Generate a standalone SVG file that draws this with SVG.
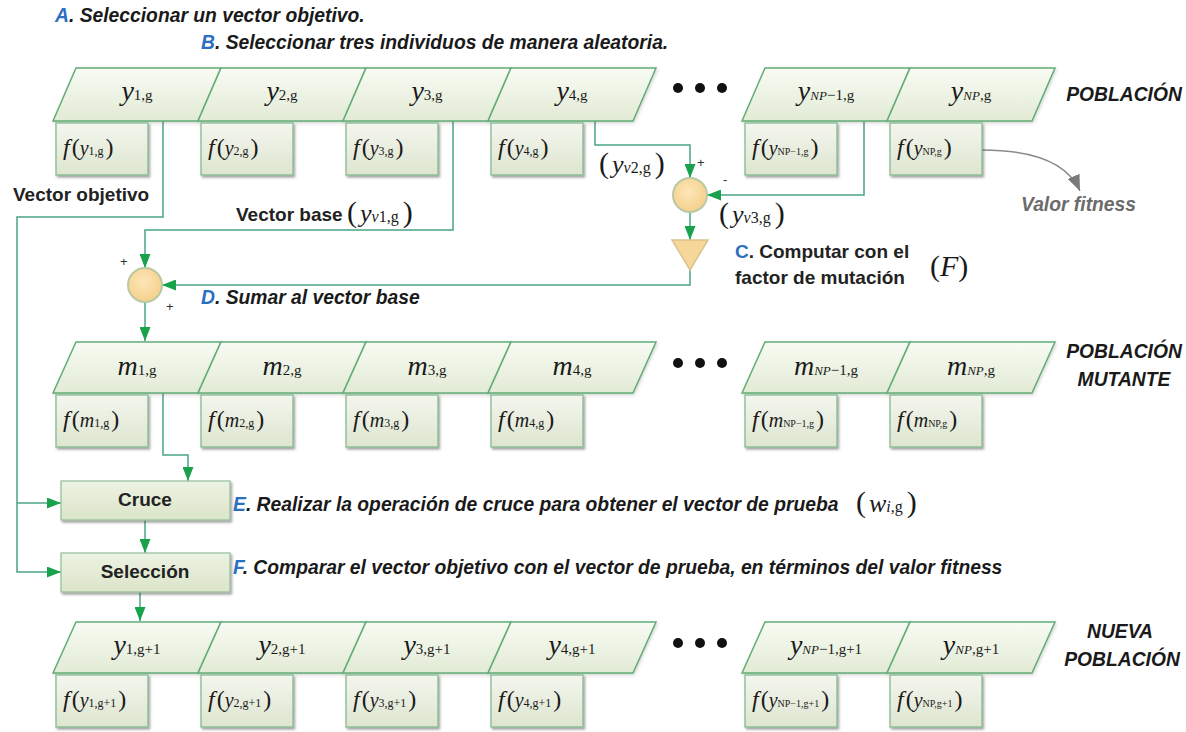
<svg xmlns="http://www.w3.org/2000/svg" width="1186" height="732" viewBox="0 0 1186 732">
<defs>
<linearGradient id="gPar" x1="0" y1="0" x2="0" y2="1"><stop offset="0" stop-color="#f8fbf3"/><stop offset="1" stop-color="#e2ebd5"/></linearGradient>
<linearGradient id="gBox" x1="0" y1="0" x2="0" y2="1"><stop offset="0" stop-color="#f4f6ef"/><stop offset="1" stop-color="#dde5cf"/></linearGradient>
<linearGradient id="gOp" x1="0" y1="0" x2="0" y2="1"><stop offset="0" stop-color="#edf2e2"/><stop offset="1" stop-color="#dbe5c9"/></linearGradient>
<radialGradient id="gCirc" cx="0.45" cy="0.4" r="0.6"><stop offset="0" stop-color="#fde6b8"/><stop offset="1" stop-color="#f6d08c"/></radialGradient>
<filter id="sh" x="-10%" y="-10%" width="130%" height="140%"><feDropShadow dx="1.5" dy="2" stdDeviation="1.2" flood-color="#333" flood-opacity="0.45"/></filter>
<filter id="shl" x="-10%" y="-10%" width="130%" height="140%"><feDropShadow dx="1" dy="1.5" stdDeviation="1.5" flood-color="#555" flood-opacity="0.25"/></filter>
<marker id="ah" viewBox="0 0 14 11" refX="14" refY="5.5" markerWidth="14" markerHeight="11" markerUnits="userSpaceOnUse" orient="auto"><path d="M0,0 L14,5.5 L0,11 z" fill="#19a24b"/></marker>
<marker id="ahg" viewBox="0 0 16 13" refX="16" refY="6.5" markerWidth="16" markerHeight="13" markerUnits="userSpaceOnUse" orient="auto"><path d="M0,0 L16,6.5 L0,13 z" fill="#7a7a7a"/></marker>
<style>
.par{fill:url(#gPar);stroke:#62ad75;stroke-width:1.5;filter:url(#shl)}
.fbox{fill:url(#gBox);stroke:#86bb90;stroke-width:1.3;filter:url(#sh)}
.op{fill:url(#gOp);stroke:#98c29f;stroke-width:1.3;filter:url(#sh)}
.conn{fill:none;stroke:#4aa487;stroke-width:1.5}
.arr{marker-end:url(#ah)}
.m{font-family:"Liberation Serif","Times New Roman",serif;fill:#1a1a1a}
.big{font-size:28px;font-style:italic}
.sub{font-size:15px}
.fm{font-family:"Liberation Serif","Times New Roman",serif;font-size:24px;fill:#1a1a1a}
.i{font-style:italic}
.fy{font-size:20px}
.fs{font-size:12px}
.fsn{font-size:10px}
.lbl{font-family:"Liberation Sans",Arial,sans-serif;font-weight:bold;font-style:italic;font-size:19.3px;fill:#1a1a1a}
.bl{font-family:"Liberation Sans",Arial,sans-serif;font-weight:bold;font-size:19px;fill:#222}
.blue{fill:#2b6fc0}
.sign{font-family:"Liberation Sans",Arial,sans-serif;font-size:13px;fill:#333}
.dot{fill:#111}
.circ{fill:url(#gCirc);stroke:#b9c9a4;stroke-width:2}
</style>
</defs>
<rect width="1186" height="732" fill="#ffffff"/>

<!-- Step labels -->
<text class="lbl" x="55" y="22"><tspan class="blue">A</tspan>. Seleccionar un vector objetivo.</text>
<text class="lbl" x="201" y="49"><tspan class="blue">B</tspan>. Seleccionar tres individuos de manera aleatoria.</text>

<!-- Connectors -->
<g id="connectors">
<path class="conn arr" d="M163 121 V217 H17 V572 H61"/>
<path class="conn arr" d="M17 503 H61"/>
<path class="conn arr" d="M453 121 V230 H145 V268"/>
<path class="conn arr" d="M595 121 V145 H690 V178"/>
<path class="conn arr" d="M858 115 H864 V195 H707"/>
<path class="conn arr" d="M690 212 V240"/>
<path class="conn arr" d="M690 270 V285 H162"/>
<path class="conn arr" d="M145 302 V341"/>
<path class="conn arr" d="M163 393 V455 H188 V481"/>
<path class="conn arr" d="M145 520 V553"/>
<path class="conn arr" d="M140 592 V621"/>
<path d="M982 150 Q1062 150 1080 191" fill="none" stroke="#8a8a8a" stroke-width="1.5" marker-end="url(#ahg)"/>
</g>

<!-- Row 1: POBLACION -->
<g id="y1g"><polygon class="par" points="53,121 76,68 221,68 198,121"/><text class="m" x="137" y="100" text-anchor="middle"><tspan class="big">y</tspan><tspan class="sub">1,g</tspan></text></g>
<g id="y2g"><polygon class="par" points="198,121 221,68 366,68 343,121"/><text class="m" x="282" y="100" text-anchor="middle"><tspan class="big">y</tspan><tspan class="sub">2,g</tspan></text></g>
<g id="y3g"><polygon class="par" points="343,121 366,68 511,68 488,121"/><text class="m" x="427" y="100" text-anchor="middle"><tspan class="big">y</tspan><tspan class="sub">3,g</tspan></text></g>
<g id="y4g"><polygon class="par" points="488,121 511,68 656,68 633,121"/><text class="m" x="572" y="100" text-anchor="middle"><tspan class="big">y</tspan><tspan class="sub">4,g</tspan></text></g>
<g id="dots1"><circle class="dot" cx="678" cy="88" r="5"/><circle class="dot" cx="700" cy="88" r="5"/><circle class="dot" cx="722" cy="88" r="5"/></g>
<g id="yNP1g"><polygon class="par" points="742,121 765,68 910,68 887,121"/><text class="m" x="826" y="100" text-anchor="middle"><tspan class="big">y</tspan><tspan class="sub"><tspan class="i" font-size="13">NP</tspan>−1,g</tspan></text></g>
<g id="yNPg"><polygon class="par" points="887,121 910,68 1055,68 1032,121"/><text class="m" x="971" y="100" text-anchor="middle"><tspan class="big">y</tspan><tspan class="sub"><tspan class="i" font-size="13">NP</tspan>,g</tspan></text></g>
<text class="lbl" x="1124" y="101" text-anchor="middle">POBLACIÓN</text>

<g id="fy1g"><rect class="fbox" x="56" y="123" width="92" height="52"/><text class="fm" x="63" y="155"><tspan class="i">f</tspan><tspan dx="2">(</tspan><tspan class="i fy">y</tspan><tspan class="fs">1,g</tspan><tspan dx="2">)</tspan></text></g>
<g id="fy2g"><rect class="fbox" x="201" y="123" width="92" height="52"/><text class="fm" x="208" y="155"><tspan class="i">f</tspan><tspan dx="2">(</tspan><tspan class="i fy">y</tspan><tspan class="fs">2,g</tspan><tspan dx="2">)</tspan></text></g>
<g id="fy3g"><rect class="fbox" x="346" y="123" width="92" height="52"/><text class="fm" x="353" y="155"><tspan class="i">f</tspan><tspan dx="2">(</tspan><tspan class="i fy">y</tspan><tspan class="fs">3,g</tspan><tspan dx="2">)</tspan></text></g>
<g id="fy4g"><rect class="fbox" x="491" y="123" width="92" height="52"/><text class="fm" x="498" y="155"><tspan class="i">f</tspan><tspan dx="2">(</tspan><tspan class="i fy">y</tspan><tspan class="fs">4,g</tspan><tspan dx="2">)</tspan></text></g>
<g id="fyNP1g"><rect class="fbox" x="745" y="123" width="92" height="52"/><text class="fm" x="752" y="155"><tspan class="i">f</tspan><tspan dx="2">(</tspan><tspan class="i fy">y</tspan><tspan class="fsn">NP−1,g</tspan><tspan dx="2">)</tspan></text></g>
<g id="fyNPg"><rect class="fbox" x="890" y="123" width="92" height="52"/><text class="fm" x="897" y="155"><tspan class="i">f</tspan><tspan dx="2">(</tspan><tspan class="i fy">y</tspan><tspan class="fsn">NP,g</tspan><tspan dx="2">)</tspan></text></g>

<!-- Mutation operators -->
<g id="sumDiff"><circle class="circ" cx="690" cy="195" r="17"/><text class="sign" x="697" y="167">+</text><text class="sign" x="723" y="184">-</text></g>
<g id="factorF"><polygon points="672,240 708,240 690,270" fill="#f6d699" stroke="#d9c48e" stroke-width="1.5"/></g>
<g id="sumBase"><circle class="circ" cx="145" cy="285" r="17"/><text class="sign" x="120" y="266">+</text><text class="sign" x="166" y="311">+</text></g>

<text class="bl" x="13" y="201">Vector objetivo</text>
<text class="bl" x="236" y="221" font-size="18">Vector base</text>
<text class="m" x="347" y="222"><tspan font-size="30">(</tspan><tspan class="i" font-size="26" dx="3">y</tspan><tspan class="i" font-size="16">v</tspan><tspan font-size="16">1,g</tspan><tspan font-size="30" dx="4">)</tspan></text>
<text class="m" x="599" y="173"><tspan font-size="30">(</tspan><tspan class="i" font-size="26" dx="3">y</tspan><tspan class="i" font-size="16">v</tspan><tspan font-size="16">2,g</tspan><tspan font-size="30" dx="4">)</tspan></text>
<text class="m" x="719" y="223"><tspan font-size="30">(</tspan><tspan class="i" font-size="26" dx="3">y</tspan><tspan class="i" font-size="16">v</tspan><tspan font-size="16">3,g</tspan><tspan font-size="30" dx="4">)</tspan></text>
<text class="bl" x="735" y="258"><tspan class="blue">C</tspan>. Computar con el</text>
<text class="bl" x="735" y="284">factor de  mutación</text>
<text class="m" x="930" y="276" font-size="30">(<tspan class="i">F</tspan>)</text>
<text class="lbl" x="1021" y="211" style="fill:#6b6b6b">Valor fitness</text>
<text class="lbl" x="201" y="304"><tspan class="blue">D</tspan>. Sumar al vector base</text>

<!-- Row 2: POBLACION MUTANTE -->
<g id="m1g"><polygon class="par" points="53,393 76,342 221,342 198,393"/><text class="m" x="137" y="375" text-anchor="middle"><tspan class="big">m</tspan><tspan class="sub">1,g</tspan></text></g>
<g id="m2g"><polygon class="par" points="198,393 221,342 366,342 343,393"/><text class="m" x="282" y="375" text-anchor="middle"><tspan class="big">m</tspan><tspan class="sub">2,g</tspan></text></g>
<g id="m3g"><polygon class="par" points="343,393 366,342 511,342 488,393"/><text class="m" x="427" y="375" text-anchor="middle"><tspan class="big">m</tspan><tspan class="sub">3,g</tspan></text></g>
<g id="m4g"><polygon class="par" points="488,393 511,342 656,342 633,393"/><text class="m" x="572" y="375" text-anchor="middle"><tspan class="big">m</tspan><tspan class="sub">4,g</tspan></text></g>
<g id="dots2"><circle class="dot" cx="678" cy="363" r="5"/><circle class="dot" cx="700" cy="363" r="5"/><circle class="dot" cx="722" cy="363" r="5"/></g>
<g id="mNP1g"><polygon class="par" points="742,393 765,342 910,342 887,393"/><text class="m" x="826" y="375" text-anchor="middle"><tspan class="big">m</tspan><tspan class="sub"><tspan class="i" font-size="13">NP</tspan>−1,g</tspan></text></g>
<g id="mNPg"><polygon class="par" points="887,393 910,342 1055,342 1032,393"/><text class="m" x="971" y="375" text-anchor="middle"><tspan class="big">m</tspan><tspan class="sub"><tspan class="i" font-size="13">NP</tspan>,g</tspan></text></g>
<text class="lbl" x="1124" y="358" text-anchor="middle">POBLACIÓN</text>
<text class="lbl" x="1124" y="386" text-anchor="middle">MUTANTE</text>

<g id="fm1g"><rect class="fbox" x="56" y="395" width="92" height="52"/><text class="fm" x="63" y="427"><tspan class="i">f</tspan><tspan dx="2">(</tspan><tspan class="i fy">m</tspan><tspan class="fs">1,g</tspan><tspan dx="2">)</tspan></text></g>
<g id="fm2g"><rect class="fbox" x="201" y="395" width="92" height="52"/><text class="fm" x="208" y="427"><tspan class="i">f</tspan><tspan dx="2">(</tspan><tspan class="i fy">m</tspan><tspan class="fs">2,g</tspan><tspan dx="2">)</tspan></text></g>
<g id="fm3g"><rect class="fbox" x="346" y="395" width="92" height="52"/><text class="fm" x="353" y="427"><tspan class="i">f</tspan><tspan dx="2">(</tspan><tspan class="i fy">m</tspan><tspan class="fs">3,g</tspan><tspan dx="2">)</tspan></text></g>
<g id="fm4g"><rect class="fbox" x="491" y="395" width="92" height="52"/><text class="fm" x="498" y="427"><tspan class="i">f</tspan><tspan dx="2">(</tspan><tspan class="i fy">m</tspan><tspan class="fs">4,g</tspan><tspan dx="2">)</tspan></text></g>
<g id="fmNP1g"><rect class="fbox" x="745" y="395" width="92" height="52"/><text class="fm" x="752" y="427"><tspan class="i">f</tspan><tspan dx="2">(</tspan><tspan class="i fy">m</tspan><tspan class="fsn">NP−1,g</tspan><tspan dx="2">)</tspan></text></g>
<g id="fmNPg"><rect class="fbox" x="890" y="395" width="92" height="52"/><text class="fm" x="897" y="427"><tspan class="i">f</tspan><tspan dx="2">(</tspan><tspan class="i fy">m</tspan><tspan class="fsn">NP,g</tspan><tspan dx="2">)</tspan></text></g>

<!-- Crossover and selection -->
<g id="cruce"><rect class="op" x="61" y="481" width="169" height="39"/><text class="bl" x="145" y="506" text-anchor="middle" font-size="17">Cruce</text></g>
<g id="seleccion"><rect class="op" x="61" y="553" width="169" height="39"/><text class="bl" x="145" y="578" text-anchor="middle" font-size="17">Selección</text></g>
<text class="lbl" x="233" y="511"><tspan class="blue">E</tspan>. Realizar la operación de cruce para obtener el vector de prueba</text>
<text class="m" x="856" y="512"><tspan font-size="30">(</tspan><tspan class="i" font-size="26" dx="3">w</tspan><tspan class="i" font-size="16">i</tspan><tspan font-size="16">,g</tspan><tspan font-size="30" dx="4">)</tspan></text>
<text class="lbl" x="233" y="574"><tspan class="blue">F</tspan>. Comparar el vector objetivo con el vector de prueba, en términos del valor fitness</text>

<!-- Row 3: NUEVA POBLACION -->
<g id="y1g1"><polygon class="par" points="53,673 76,622 221,622 198,673"/><text class="m" x="137" y="654" text-anchor="middle"><tspan class="big">y</tspan><tspan class="sub">1,g+1</tspan></text></g>
<g id="y2g1"><polygon class="par" points="198,673 221,622 366,622 343,673"/><text class="m" x="282" y="654" text-anchor="middle"><tspan class="big">y</tspan><tspan class="sub">2,g+1</tspan></text></g>
<g id="y3g1"><polygon class="par" points="343,673 366,622 511,622 488,673"/><text class="m" x="427" y="654" text-anchor="middle"><tspan class="big">y</tspan><tspan class="sub">3,g+1</tspan></text></g>
<g id="y4g1"><polygon class="par" points="488,673 511,622 656,622 633,673"/><text class="m" x="572" y="654" text-anchor="middle"><tspan class="big">y</tspan><tspan class="sub">4,g+1</tspan></text></g>
<g id="dots3"><circle class="dot" cx="678" cy="643" r="5"/><circle class="dot" cx="700" cy="643" r="5"/><circle class="dot" cx="722" cy="643" r="5"/></g>
<g id="yNP1g1"><polygon class="par" points="742,673 765,622 910,622 887,673"/><text class="m" x="826" y="654" text-anchor="middle"><tspan class="big">y</tspan><tspan class="sub"><tspan class="i" font-size="13">NP</tspan>−1,g+1</tspan></text></g>
<g id="yNPg1"><polygon class="par" points="887,673 910,622 1055,622 1032,673"/><text class="m" x="971" y="654" text-anchor="middle"><tspan class="big">y</tspan><tspan class="sub"><tspan class="i" font-size="13">NP</tspan>,g+1</tspan></text></g>
<text class="lbl" x="1120" y="638" text-anchor="middle">NUEVA</text>
<text class="lbl" x="1122" y="666" text-anchor="middle">POBLACIÓN</text>

<g id="fy1g1"><rect class="fbox" x="56" y="675" width="92" height="52"/><text class="fm" x="63" y="707"><tspan class="i">f</tspan><tspan dx="2">(</tspan><tspan class="i fy">y</tspan><tspan class="fs">1,g+1</tspan><tspan dx="2">)</tspan></text></g>
<g id="fy2g1"><rect class="fbox" x="201" y="675" width="92" height="52"/><text class="fm" x="208" y="707"><tspan class="i">f</tspan><tspan dx="2">(</tspan><tspan class="i fy">y</tspan><tspan class="fs">2,g+1</tspan><tspan dx="2">)</tspan></text></g>
<g id="fy3g1"><rect class="fbox" x="346" y="675" width="92" height="52"/><text class="fm" x="353" y="707"><tspan class="i">f</tspan><tspan dx="2">(</tspan><tspan class="i fy">y</tspan><tspan class="fs">3,g+1</tspan><tspan dx="2">)</tspan></text></g>
<g id="fy4g1"><rect class="fbox" x="491" y="675" width="92" height="52"/><text class="fm" x="498" y="707"><tspan class="i">f</tspan><tspan dx="2">(</tspan><tspan class="i fy">y</tspan><tspan class="fs">4,g+1</tspan><tspan dx="2">)</tspan></text></g>
<g id="fyNP1g1"><rect class="fbox" x="745" y="675" width="92" height="52"/><text class="fm" x="752" y="707"><tspan class="i">f</tspan><tspan dx="2">(</tspan><tspan class="i fy">y</tspan><tspan class="fsn">NP−1,g+1</tspan><tspan dx="2">)</tspan></text></g>
<g id="fyNPg1"><rect class="fbox" x="890" y="675" width="92" height="52"/><text class="fm" x="897" y="707"><tspan class="i">f</tspan><tspan dx="2">(</tspan><tspan class="i fy">y</tspan><tspan class="fsn">NP,g+1</tspan><tspan dx="2">)</tspan></text></g>
</svg>
